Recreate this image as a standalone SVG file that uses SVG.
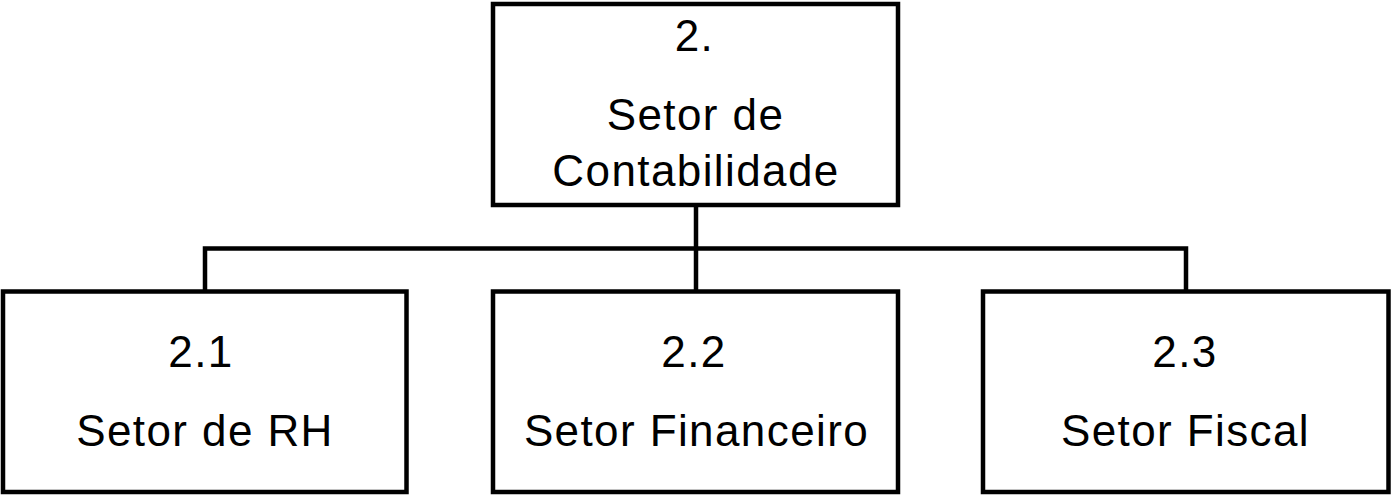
<svg xmlns="http://www.w3.org/2000/svg" width="1391" height="496" viewBox="0 0 1391 496">
<style>
.box{fill:#fff;stroke:#000;stroke-width:4.5}
.conn{fill:none;stroke:#000;stroke-width:4.5}
.t{font-family:"Liberation Sans",Arial,sans-serif;font-size:44px;fill:#000;text-anchor:middle;letter-spacing:1.4px}
</style>
<rect width="1391" height="496" fill="#fff"/>
<g id="connectors">
<path class="conn" d="M696,205 V291"/>
<path class="conn" d="M205,291 V248.5 H1186 V291"/>
</g>
<g id="n2">
<rect class="box" x="493" y="4" width="405" height="201"/>
<text class="t" x="694.5" y="51">2.</text>
<text class="t" x="695.5" y="130">Setor de</text>
<text class="t" x="696" y="186">Contabilidade</text>
</g>
<g id="n21">
<rect class="box" x="3" y="291.5" width="403.5" height="200.5"/>
<text class="t" x="201" y="367">2.1</text>
<text class="t" x="205" y="446">Setor de RH</text>
</g>
<g id="n22">
<rect class="box" x="493" y="291.5" width="405" height="200.5"/>
<text class="t" x="694" y="367">2.2</text>
<text class="t" x="696.5" y="446">Setor Financeiro</text>
</g>
<g id="n23">
<rect class="box" x="983" y="291.5" width="405.5" height="200.5"/>
<text class="t" x="1185" y="367">2.3</text>
<text class="t" x="1185.5" y="446">Setor Fiscal</text>
</g>
</svg>
